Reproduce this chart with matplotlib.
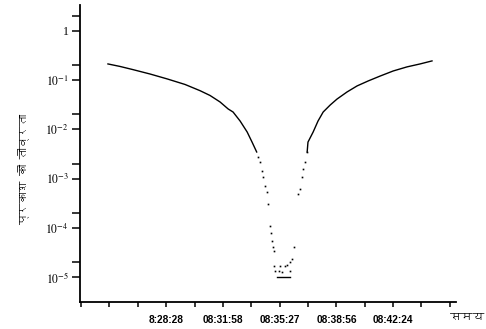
import matplotlib
matplotlib.use("Agg")
import matplotlib.pyplot as plt
from matplotlib import font_manager
from matplotlib.ft2font import FT2Font
from matplotlib.ticker import FixedLocator, NullFormatter

# ---- data (seconds after 08:28:28, relative light intensity) ----
tick_times = ["8:28:28", "08:31:58", "08:35:27", "08:38:56", "08:42:24"]
tick_secs = [0, 210, 419, 628, 836]

left_t = [-214, -170, -122, -59, 4, 70, 125, 162, 199, 229, 247, 273, 299, 317, 334]
left_v = [0.211, 0.188, 0.162, 0.132, 0.105, 0.081, 0.0607, 0.0485, 0.0358,
          0.0258, 0.0224, 0.0147, 0.0088, 0.0055, 0.00347]

dot_t = [339, 346, 354, 358, 365, 372, 376, 383, 387, 391, 394, 398, 398, 402,
         417, 420, 428, 439, 446, 457, 457, 464, 472, 487, 494, 501, 505, 512, 520]
dot_v = [2.74e-3, 2.17e-3, 1.43e-3, 1.08e-3, 7.08e-4, 5.37e-4, 3.05e-4, 1.1e-4,
         7.9e-5, 5.4e-5, 4.1e-5, 3.4e-5, 1.7e-5, 1.34e-5,
         1.34e-5, 1.7e-5, 1.28e-5, 1.7e-5, 1.78e-5, 2.04e-5, 1.34e-5, 2.34e-5,
         4.1e-5, 4.86e-4, 6.15e-4, 1.08e-3, 1.56e-3, 2.17e-3, 3.47e-3]

floor_t = [409, 414, 420, 426, 431, 437, 442, 448, 453, 457]
floor_v = [1e-5] * 10

right_t = [520, 523, 542, 560, 579, 605, 630, 667, 704, 745, 789, 837, 888, 936, 980]
right_v = [3.47e-3, 5.5e-3, 8.8e-3, 0.0147, 0.0224, 0.0311, 0.041, 0.0571,
           0.0757, 0.0955, 0.12, 0.152, 0.184, 0.211, 0.243]

y_ticks = [1, 1e-1, 1e-2, 1e-3, 1e-4, 1e-5]
y_labels = ["1", r"$10^{-1}$", r"$10^{-2}$", r"$10^{-3}$", r"$10^{-4}$", r"$10^{-5}$"]
y_title = "प्रकाश की तीव्रता"
x_title = "समय"


def find_font(ch):
    seen = set()
    for f in font_manager.fontManager.ttflist:
        if f.fname in seen:
            continue
        seen.add(f.fname)
        try:
            if ord(ch) in FT2Font(f.fname).get_charmap():
                return f.name
        except Exception:
            pass
    return "DejaVu Sans"


deva = find_font("क")

plt.rcParams["mathtext.fontset"] = "stix"
fig = plt.figure(figsize=(4.86, 3.29), dpi=100)
ax = fig.add_axes([0.1646, 0.082, 0.774, 0.903])

ax.plot(left_t, left_v, color="black", lw=1.0)
ax.plot(right_t, right_v, color="black", lw=1.0)
ax.plot(dot_t, dot_v, ls="none", marker="s", ms=1.2, color="black", mew=0)
ax.plot(floor_t, floor_v, color="black", lw=1.0)

ax.set_yscale("log")
ax.set_ylim(10 ** -5.5, 10 ** 0.52)
ax.set_xlim(-317, 1069)

ax.yaxis.set_major_locator(FixedLocator(y_ticks))
ax.set_yticklabels(y_labels, fontsize=8.5, family="Liberation Serif")
ax.yaxis.set_minor_locator(FixedLocator([2, 0.2, 0.02, 2e-3, 2e-4, 2e-5]))
ax.yaxis.set_minor_formatter(NullFormatter())

minor_x = [-313.5, -209, -104.5, 105, 314.5, 523.5, 732, 940, 1044.5]
ax.xaxis.set_major_locator(FixedLocator(tick_secs))
ax.set_xticklabels(tick_times, fontsize=7.3, fontweight="bold", family="Liberation Sans")
ax.xaxis.set_minor_locator(FixedLocator(minor_x))

ax.tick_params(axis="y", which="both", direction="out", length=6, width=1.1, pad=2)
ax.tick_params(axis="x", which="both", direction="out", length=3.5, width=1.1, pad=6)

for s in ("top", "right"):
    ax.spines[s].set_visible(False)
for s in ("left", "bottom"):
    ax.spines[s].set_linewidth(1.3)

fig.text(0.047, 0.486, y_title, rotation=90, ha="center", va="center",
         fontsize=8, fontweight="bold", family=[deva, "DejaVu Sans"])
fig.text(0.962, 0.035, x_title, ha="center", va="center", fontsize=8.5,
         fontweight="bold", family=[deva, "DejaVu Sans"])

fig.savefig("out.png", dpi=100)
